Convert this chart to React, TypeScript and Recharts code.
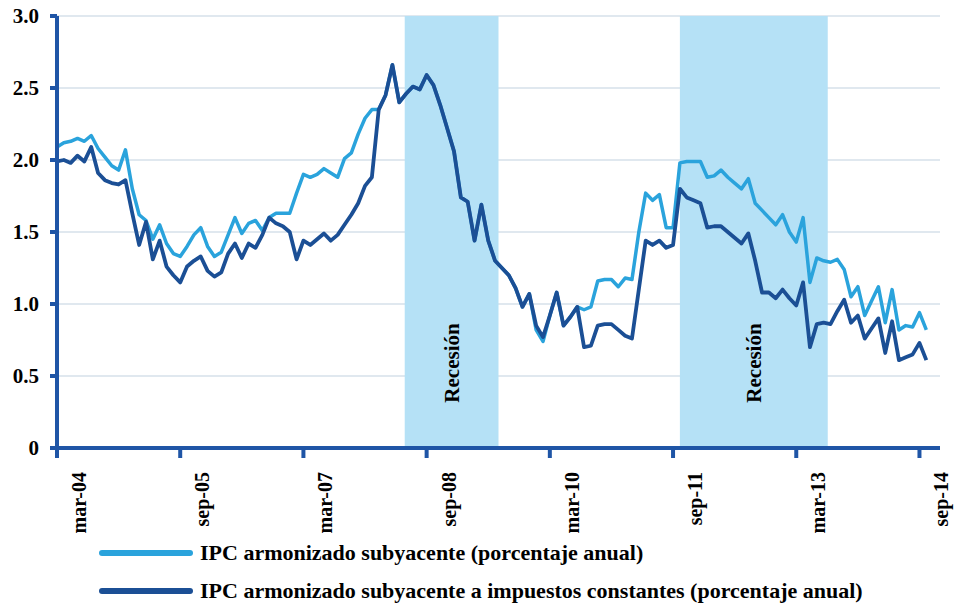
import { LineChart, Line, XAxis, YAxis, CartesianGrid, ReferenceArea } from "recharts";

// monthly index: 0 = mar-04 ... 127 = oct-14
const subyacente = [
  2.09, 2.12, 2.13, 2.15, 2.13, 2.17, 2.08, 2.02, 1.96, 1.93,
  2.07, 1.8, 1.62, 1.58, 1.45, 1.55, 1.42, 1.35, 1.33, 1.4,
  1.48, 1.53, 1.4, 1.33, 1.36, 1.48, 1.6, 1.49, 1.56, 1.58,
  1.51, 1.6, 1.63, 1.63, 1.63, 1.77, 1.9, 1.88, 1.9, 1.94,
  1.91, 1.88, 2.01, 2.05, 2.18, 2.29, 2.35, 2.35, 2.45, 2.66,
  2.4, 2.46, 2.51, 2.49, 2.59, 2.52, 2.38, 2.22, 2.06, 1.74,
  1.71, 1.44, 1.69, 1.44, 1.3, 1.25, 1.2, 1.11, 0.98, 1.07,
  0.82, 0.74, 0.92, 1.08, 0.85, 0.91, 0.98, 0.96, 0.98, 1.16,
  1.17, 1.17, 1.12, 1.18, 1.17, 1.5, 1.77, 1.72, 1.76, 1.53,
  1.53, 1.98, 1.99, 1.99, 1.99, 1.88, 1.89, 1.93, 1.88, 1.84,
  1.8, 1.87, 1.7, 1.65, 1.6, 1.55, 1.62, 1.5, 1.43, 1.6,
  1.15, 1.32, 1.3, 1.29, 1.31, 1.24, 1.05, 1.12, 0.92, 1.02,
  1.12, 0.87, 1.1, 0.82, 0.85, 0.84, 0.94, 0.82,
];

const impuestosConstantes = [
  1.99, 2.0, 1.98, 2.03, 1.99, 2.09, 1.91, 1.86, 1.84, 1.83,
  1.86, 1.63, 1.41, 1.57, 1.31, 1.44, 1.26, 1.2, 1.15, 1.26,
  1.3, 1.33, 1.23, 1.19, 1.22, 1.35, 1.42, 1.32, 1.42, 1.39,
  1.48, 1.6, 1.56, 1.54, 1.5, 1.31, 1.44, 1.41, 1.45, 1.49,
  1.44, 1.48, 1.55, 1.62, 1.7, 1.82, 1.88, 2.35, 2.45, 2.66,
  2.4, 2.46, 2.51, 2.49, 2.59, 2.52, 2.38, 2.22, 2.06, 1.74,
  1.71, 1.44, 1.69, 1.44, 1.3, 1.25, 1.2, 1.11, 0.98, 1.07,
  0.85, 0.77, 0.92, 1.08, 0.85, 0.91, 0.98, 0.7, 0.71, 0.85,
  0.86, 0.86, 0.82, 0.78, 0.76, 1.1, 1.44, 1.41, 1.44, 1.39,
  1.41, 1.8, 1.74, 1.72, 1.7, 1.53, 1.54, 1.54, 1.5, 1.46,
  1.42, 1.49, 1.3, 1.08, 1.08, 1.04, 1.1, 1.04, 0.99, 1.15,
  0.7, 0.86, 0.87, 0.86, 0.95, 1.03, 0.87, 0.92, 0.76, 0.83,
  0.9, 0.66, 0.88, 0.61, 0.63, 0.65, 0.73, 0.61,
];

const xTicks = [0, 18, 36, 54, 72, 90, 108, 126];
const xTickLabels = ["mar-04", "sep-05", "mar-07", "sep-08", "mar-10", "sep-11", "mar-13", "sep-14"];
const yTicks = [0, 0.5, 1, 1.5, 2, 2.5, 3];

const recesiones = [
  { desde: 50.8, hasta: 64.5 },
  { desde: 91, hasta: 112.6 },
];

const serieNames = [
  "IPC armonizado subyacente (porcentaje anual)",
  "IPC armonizado subyacente a impuestos constantes (porcentaje anual)",
];

const data = subyacente.map((v, i) => ({ m: i, a: v, b: impuestosConstantes[i] }));

const LIGHT = "#2aa3dc";
const DARK = "#1b4f95";
const AXIS = "#1f55a6";
const BAND = "#b5e1f6";
const FONT = '"Liberation Serif", "Times New Roman", serif';

const XTick = ({ x, y, payload }: any) => {
  const idx = xTicks.indexOf(payload.value);
  const tx = x + 29;
  const ty = y + 12;
  return (
    <text
      x={tx}
      y={ty}
      transform={`rotate(-90 ${tx} ${ty})`}
      textAnchor="end"
      fontFamily={FONT}
      fontWeight="bold"
      fontSize={20}
      fill="#000"
    >
      {xTickLabels[idx]}
    </text>
  );
};

const BandShape = ({ x, y, width, height }: any) => {
  const cx = x + width / 2 + 7;
  return (
    <g>
      <rect x={x} y={y} width={width} height={height} fill={BAND} />
      <text
        x={cx}
        y={363}
        transform={`rotate(-90 ${cx} 363)`}
        textAnchor="middle"
        fontFamily={FONT}
        fontWeight="bold"
        fontSize={21}
        fill="#000"
      >
        Recesión
      </text>
    </g>
  );
};

export default function App() {
  return (
    <div style={{ position: "absolute", left: 0, top: 0, width: 954, height: 606, background: "#fff" }}>
      <LineChart width={954} height={606} data={data} margin={{ top: 16, right: 14, left: 0, bottom: 68 }}>
        <CartesianGrid vertical={false} stroke="#d6e0ea" strokeWidth={1.5} />
        {recesiones.map((r, i) => (
          <ReferenceArea key={i} x1={r.desde} x2={r.hasta} y1={0} y2={3} shape={<BandShape />} ifOverflow="visible" />
        ))}
        <XAxis
          dataKey="m"
          type="number"
          domain={[0, 129]}
          ticks={xTicks}
          interval={0}
          height={90}
          axisLine={{ stroke: AXIS, strokeWidth: 4 }}
          tickLine={{ stroke: AXIS, strokeWidth: 4 }}
          tickSize={10}
          tick={<XTick />}
        />
        <YAxis
          domain={[0, 3]}
          ticks={yTicks}
          width={57}
          axisLine={{ stroke: AXIS, strokeWidth: 4 }}
          tickLine={{ stroke: AXIS, strokeWidth: 4 }}
          tickSize={7}
          tickMargin={11}
          tickFormatter={(v: number) => (v === 0 ? "0" : v.toFixed(1))}
          tick={{ fontFamily: FONT, fontWeight: "bold", fontSize: 21, fill: "#000" }}
        />
        <Line dataKey="a" stroke={LIGHT} strokeWidth={3.5} dot={false} isAnimationActive={false} strokeLinejoin="round" />
        <Line dataKey="b" stroke={DARK} strokeWidth={3.8} dot={false} isAnimationActive={false} strokeLinejoin="round" />
      </LineChart>
      {serieNames.map((name, i) => (
        <div
          key={name}
          style={{
            position: "absolute",
            left: 98,
            top: 539 + i * 38,
            height: 28,
            display: "flex",
            alignItems: "center",
            fontFamily: FONT,
            fontWeight: "bold",
            fontSize: 22,
            whiteSpace: "nowrap",
          }}
        >
          <svg width={96} height={10} style={{ marginRight: 6 }}>
            <line x1={4} y1={5} x2={92} y2={5} stroke={i === 0 ? LIGHT : DARK} strokeWidth={6} strokeLinecap="round" />
          </svg>
          <span>{name}</span>
        </div>
      ))}
    </div>
  );
}
